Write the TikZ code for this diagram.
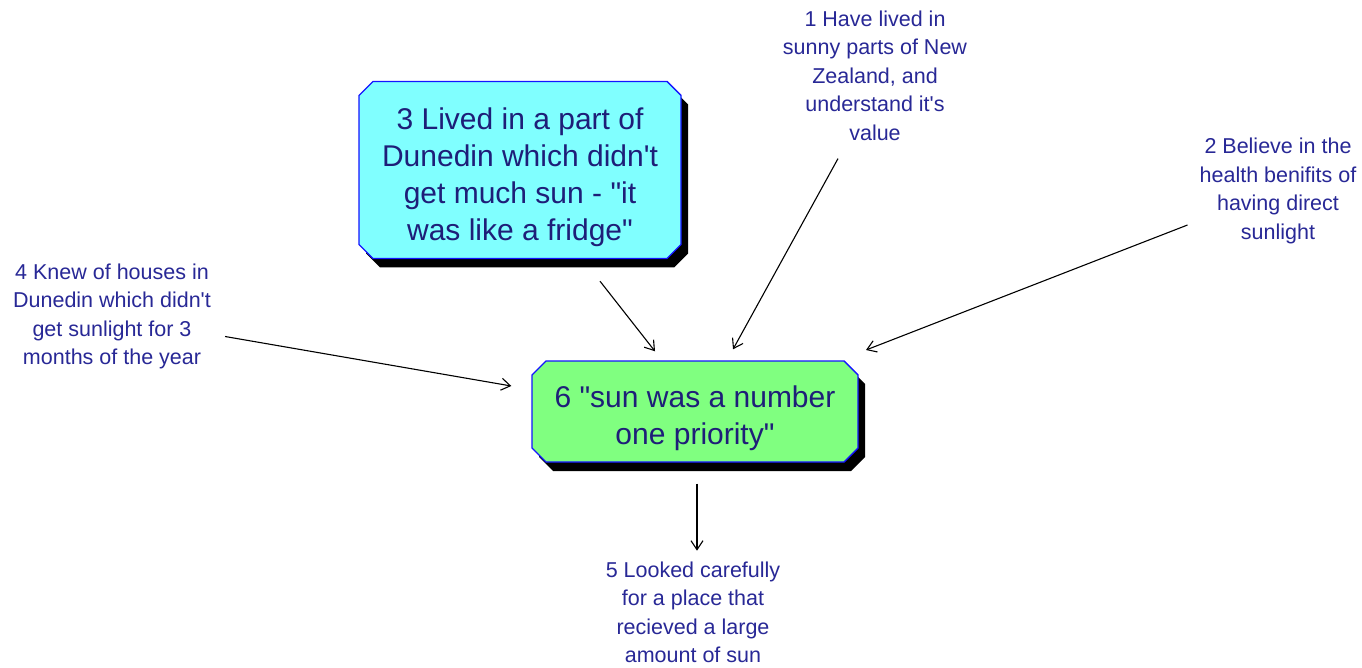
\documentclass[tikz,border=0pt]{standalone}
\usepackage{fontspec}
\setmainfont{Liberation Sans}[Ligatures=TeXOff]
\usetikzlibrary{shapes.misc,shadows,arrows.meta}
\definecolor{boxcyan}{RGB}{128,255,255}
\definecolor{boxgreen}{RGB}{128,255,128}
\definecolor{edgeblue}{RGB}{20,20,255}
\definecolor{boxtext}{RGB}{30,30,120}
\definecolor{notetext}{RGB}{40,40,150}
\begin{document}
\begin{tikzpicture}[x=1pt,y=-1pt,
  conceptbox/.style={chamfered rectangle, chamfered rectangle xsep=7pt,
    chamfered rectangle ysep=7pt, draw=edgeblue, line width=1.4pt,
    inner sep=0pt, align=center, text=boxtext,
    font=\fontsize{30}{37}\selectfont,
    drop shadow={shadow xshift=7pt, shadow yshift=-9pt, fill=black, opacity=1}},
  note/.style={align=center, inner sep=0pt, text=notetext,
    font=\fontsize{21.5}{28.5}\selectfont},
  link/.style={black, line width=1.1pt, -{Straight Barb[length=9pt,width=12pt]}}]
  \useasboundingbox (0,0) rectangle (1362,668);
  \fill[white] (0,0) rectangle (1362,668);

  % concept boxes (the tall strut on the first line pushes the text a little lower)
  \node[conceptbox, fill=boxcyan, minimum width=322pt, minimum height=177pt]
    (box3) at (520,170) {\rule{0pt}{36pt}3 Lived in a part of\\Dunedin which didn't\\get much sun - "it\\was like a fridge"};
  \node[conceptbox, fill=boxgreen, minimum width=326pt, minimum height=101pt]
    (box6) at (695,411.5) {\rule{0pt}{35pt}6 "sun was a number\\one priority"};

  % free notes
  \node[note] (lab1) at (875,75.5) {1 Have lived in\\sunny parts of New\\Zealand, and\\understand it's\\value};
  \node[note] (lab2) at (1278,191) {2 Believe in the\\health benifits of\\having direct\\sunlight};
  \node[note] (lab4) at (112,316.5) {4 Knew of houses in\\Dunedin which didn't\\get sunlight for 3\\months of the year};
  \node[note] (lab5) at (693,612.5) {5 Looked carefully\\for a place that\\recieved a large\\amount of sun};

  % connectors
  \draw[link] ([xshift=80pt,yshift=-22pt]box3.south) -- ([xshift=-40pt,yshift=9pt]box6.north);
  \draw[link] ([xshift=-37pt,yshift=-18pt]lab1.south) -- ([xshift=38pt,yshift=11pt]box6.north);
  \draw[link] ([xshift=-12pt,yshift=-34pt]lab2.west) -- ([xshift=171pt,yshift=61.5pt]box6.center);
  \draw[link] ([xshift=14pt,yshift=-20pt]lab4.east) -- ([xshift=-20pt,yshift=25.5pt]box6.west);
  \draw[link] ([xshift=2pt,yshift=-21pt]box6.south) -- ([xshift=4pt,yshift=11pt]lab5.north);
\end{tikzpicture}
\end{document}
